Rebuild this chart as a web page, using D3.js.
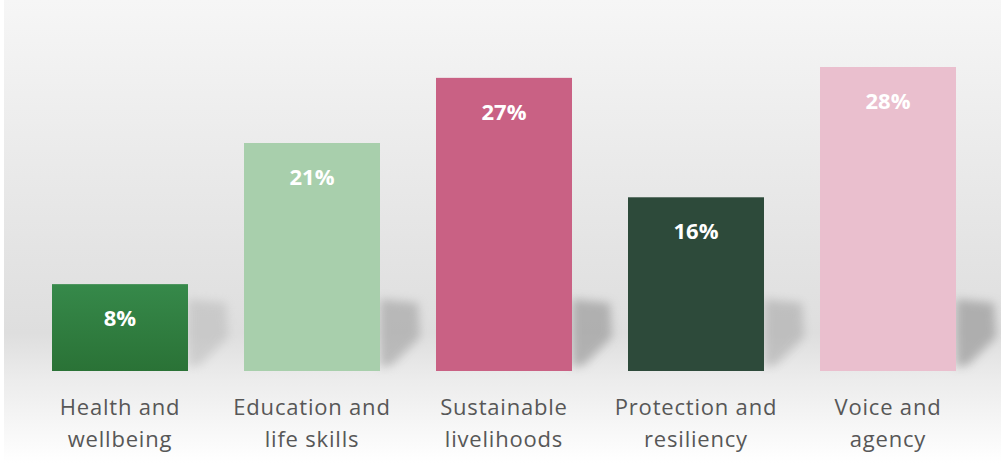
<!DOCTYPE html>
<html>
<head>
<meta charset="utf-8">
<script src="https://cdn.jsdelivr.net/npm/d3@7"></script>
<style>
  html, body { margin: 0; padding: 0; background: #fff; }
  svg { display: block; }
</style>
</head>
<body>
<svg id="chart" width="1001" height="463"></svg>
<script>
// Share of funding by outcome area
const categories = ["Health and wellbeing", "Education and life skills", "Sustainable livelihoods", "Protection and resiliency", "Voice and agency"];
const labelLines = [["Health and", "wellbeing"], ["Education and", "life skills"], ["Sustainable", "livelihoods"], ["Protection and", "resiliency"], ["Voice and", "agency"]];
const values = [8, 21, 27, 16, 28];
const colors = ["#2f7f3f", "#a8cfac", "#c96184", "#2d4a3a", "#eabfce"];

const W = 1001, H = 463;
const svg = d3.select("#chart");
const defs = svg.append("defs");

// Backdrop: soft grey wash fading to white under the labels
const bg = defs.append("linearGradient").attr("id", "bg").attr("x1", 0).attr("y1", 0).attr("x2", 0).attr("y2", 1);
bg.append("stop").attr("offset", "0%").attr("stop-color", "#f6f6f6");
bg.append("stop").attr("offset", "35%").attr("stop-color", "#eaeaea");
bg.append("stop").attr("offset", "72%").attr("stop-color", "#dedede");
bg.append("stop").attr("offset", "82%").attr("stop-color", "#ececec");
bg.append("stop").attr("offset", "100%").attr("stop-color", "#ffffff");
svg.append("rect").attr("x", 4).attr("y", 0).attr("width", W - 4).attr("height", H).attr("fill", "url(#bg)");

const blur = defs.append("filter").attr("id", "soft").attr("x", "-50%").attr("y", "-50%").attr("width", "200%").attr("height", "200%");
blur.append("feGaussianBlur").attr("stdDeviation", 5);

const greenGrad = defs.append("linearGradient").attr("id", "g0").attr("x1", 0).attr("y1", 0).attr("x2", 0).attr("y2", 1);
greenGrad.append("stop").attr("offset", "0%").attr("stop-color", "#36894a");
greenGrad.append("stop").attr("offset", "100%").attr("stop-color", "#2a7236");

const baseline = 371;
const x = d3.scaleBand().domain(categories).range([23.2, 984.8]).paddingInner(0.2917).paddingOuter(0.15);
const y = d3.scaleLinear().domain([0, 28]).range([baseline, 67]);

// Cast shadows to the right of each bar, stronger for taller bars
svg.append("g").selectAll("path").data(categories).join("path")
  .attr("d", d => {
    const r = x(d) + x.bandwidth();
    return `M${r},${baseline - 72} L${r + 38},${baseline - 68} L${r + 40},${baseline - 34} L${r + 12},${baseline - 6} L${r},${baseline - 4} Z`;
  })
  .attr("fill", "#9a9a9a")
  .attr("opacity", (d, i) => 0.15 + 0.55 * values[i] / 28)
  .attr("filter", "url(#soft)");

// Bars
svg.append("g").selectAll("rect").data(categories).join("rect")
  .attr("x", d => x(d))
  .attr("y", (d, i) => y(values[i]))
  .attr("width", x.bandwidth())
  .attr("height", (d, i) => baseline - y(values[i]))
  .attr("fill", (d, i) => i === 0 ? "url(#g0)" : colors[i]);

// Value labels inside the bars
svg.append("g").selectAll("text").data(categories).join("text")
  .attr("x", d => x(d) + x.bandwidth() / 2)
  .attr("y", (d, i) => y(values[i]) + 42)
  .attr("text-anchor", "middle")
  .attr("font-family", "'Open Sans', sans-serif")
  .attr("font-weight", 700)
  .attr("font-size", 22)
  .attr("fill", "#ffffff")
  .text((d, i) => values[i] + "%");

// Category labels under the axis
const cat = svg.append("g").selectAll("text").data(categories).join("text")
  .attr("x", d => x(d) + x.bandwidth() / 2)
  .attr("y", 415)
  .attr("text-anchor", "middle")
  .attr("font-family", "'Open Sans', sans-serif")
  .attr("font-size", 22)
  .attr("letter-spacing", 0.8)
  .attr("fill", "#575757");
cat.selectAll("tspan").data((d, i) => labelLines[i]).join("tspan")
  .attr("x", function () { return d3.select(this.parentNode).attr("x"); })
  .attr("dy", (d, j) => j === 0 ? 0 : 32)
  .text(d => d);
</script>
</body>
</html>
